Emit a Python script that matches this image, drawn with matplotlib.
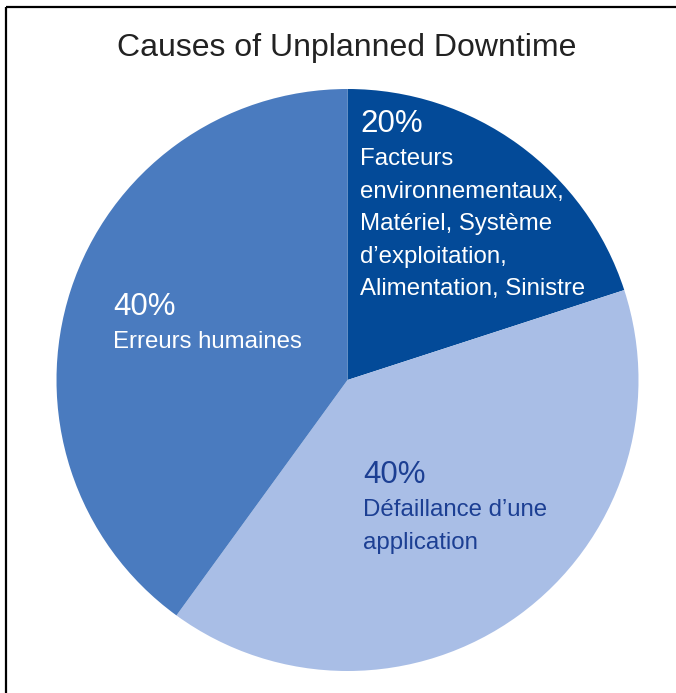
import matplotlib
matplotlib.use("Agg")
import matplotlib.pyplot as plt

plt.rcParams['font.family'] = ['Liberation Sans', 'DejaVu Sans']

title = "Causes of Unplanned Downtime"
# slices, clockwise from 12 o'clock
values = [20, 40, 40]
labels = ["Facteurs\nenvironnementaux,\nMatériel, Système\nd’exploitation,\nAlimentation, Sinistre",
          "Défaillance d’une\napplication",
          "Erreurs humaines"]
colors = ["#034a98", "#a9bee6", "#4a7bbf"]
text_colors = ["white", "#1c3f93", "white"]

W, H = 676, 693
fig = plt.figure(figsize=(W / 100, H / 100), dpi=100)
ax = fig.add_axes([0, 0, 1, 1])

cx, cy, r = 347.5, H - 380, 291
ax.pie(values, colors=colors, startangle=90, counterclock=False,
       center=(cx, cy), radius=r, frame=True,
       wedgeprops=dict(linewidth=0))
ax.set_xlim(0, W)
ax.set_ylim(0, H)
ax.set_aspect('equal')
ax.axis('off')

# label anchors (left edge, baseline of percent line) in image pixels
anchors = [(360, 132), (363, 483), (113, 315)]
for v, lab, tc, (x, y) in zip(values, labels, text_colors, anchors):
    ax.text(x, H - y, f"{v}%", fontsize=22.5, color=tc, ha='left', va='baseline')
    ax.text(x, H - y - 16, lab, fontsize=17.3, color=tc, ha='left', va='top',
            linespacing=1.62)

ax.text(W / 2 + 9, H - 56, title, fontsize=23, color="#222222", ha='center', va='baseline')

# frame lines along the left and top edges
ax.plot([6, 6], [0, H - 7], color='black', lw=1.6, solid_capstyle='butt')
ax.plot([6, W], [H - 7, H - 7], color='black', lw=1.6, solid_capstyle='butt')

fig.savefig("out.png", dpi=100)
